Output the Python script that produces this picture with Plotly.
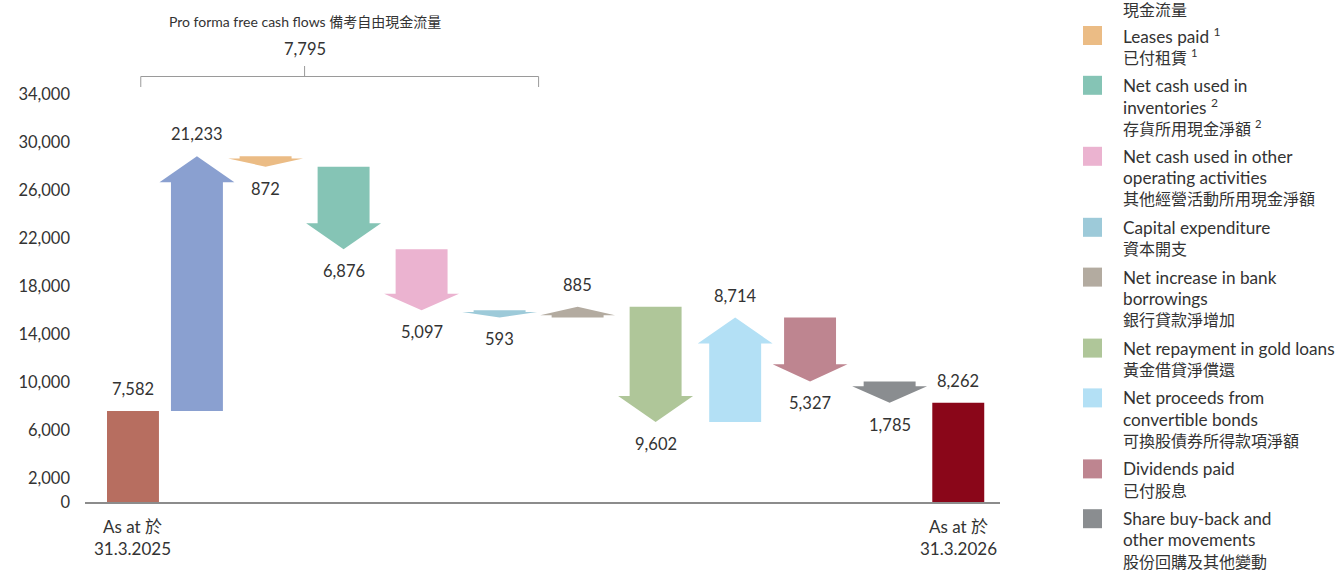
import re
import plotly.graph_objects as go

# ---------------- data ----------------
start_value = 7582
end_value = 8262
changes = [21233, -872, -6876, -5097, -593, 885, -9602, 8714, -5327, -1785]
change_colors = ["#8AA0D0", "#EBBC85", "#85C4B5", "#EBB3D0", "#9DCAD9",
                 "#B3ABA0", "#AFC699", "#B3E0F5", "#BE8590", "#8A8D90"]
start_color = "#B76E60"
end_color = "#8A0619"
ytick_vals = [0, 2000, 6000, 10000, 14000, 18000, 22000, 26000, 30000, 34000]
start_cat = "As at 於<br>31.3.2025"
end_cat = "As at 於<br>31.3.2026"
fcf_title = "Pro forma free cash flows 備考自由現金流量"
fcf_value = sum(changes[:5])  # 7,795

legend_partial = "現金流量"
legend_items = [
    ("#EBBC85", ["Leases paid <sup>1</sup>", "已付租賃 <sup>1</sup>"]),
    ("#85C4B5", ["Net cash used in", "inventories <sup>2</sup>", "存貨所用現金淨額 <sup>2</sup>"]),
    ("#EBB3D0", ["Net cash used in other", "operating activities", "其他經營活動所用現金淨額"]),
    ("#9DCAD9", ["Capital expenditure", "資本開支"]),
    ("#B3ABA0", ["Net increase in bank", "borrowings", "銀行貸款淨增加"]),
    ("#AFC699", ["Net repayment in gold loans", "黃金借貸淨償還"]),
    ("#B3E0F5", ["Net proceeds from", "convertible bonds", "可換股債券所得款項淨額"]),
    ("#BE8590", ["Dividends paid", "已付股息"]),
    ("#8A8D90", ["Share buy-back and", "other movements", "股份回購及其他變動"]),
]

# ---------------- layout constants ----------------
W, H = 1336, 570
ML, MR, MT, MB = 85, 336, 10, 68
YMAX = 41000
PX = (H - MT - MB) / YMAX          # pixels per value unit
x_slot = [0, 0.82, 1.7, 2.7, 3.7, 4.7, 5.7, 6.7, 7.72, 8.68, 9.7, 10.58]
XR = [-0.615, 11.115]
BW = 0.333   # half body width (slot units)
HW = 0.48    # half head width
FONT = "Lato, 'Noto Sans CJK TC', sans-serif"
TXT = "#333333"

fig = go.Figure()

# start / end bars
fig.add_trace(go.Bar(x=[x_slot[0], x_slot[-1]], y=[start_value, end_value],
                     width=2 * BW, marker=dict(color=[start_color, end_color], line_width=0),
                     showlegend=False, hoverinfo="skip"))

annotations = []
shapes = []

def vlabel(x, y, text, shift):
    annotations.append(dict(x=x, y=y, xref="x", yref="y", text=text, showarrow=False,
                            yshift=shift, yanchor="middle", xanchor="center",
                            font=dict(family=FONT, size=16.5, color=TXT)))

vlabel(x_slot[0], start_value, f"{start_value:,}", 22)
vlabel(x_slot[-1], end_value, f"{end_value:,}", 22)

# arrows
cum = start_value
for i, (d, col) in enumerate(zip(changes, change_colors)):
    c = x_slot[i + 1]
    a, b = cum, cum + d
    lpx = abs(d) * PX
    if lpx < 30:
        hpx = 0.78 * lpx
    elif lpx < 75:
        hpx = 0.27 * lpx
    else:
        hpx = 26
    h = hpx / PX
    s = 1 if d > 0 else -1
    nb = b - s * h
    xs = [c - BW, c + BW, c + BW, c + HW, c, c - HW, c - BW, c - BW]
    ys = [a, a, nb, nb, b, nb, nb, a]
    fig.add_trace(go.Scatter(x=xs, y=ys, fill="toself", fillcolor=col, mode="lines",
                             line=dict(width=0, color=col), showlegend=False, hoverinfo="skip"))
    vlabel(c, b, f"{abs(d):,}", 22 * s)
    cum = b

# category labels under axis
for xv, t in [(x_slot[0], start_cat), (x_slot[-1], end_cat)]:
    annotations.append(dict(x=xv, y=0, xref="x", yref="y", text=t, showarrow=False,
                            yanchor="top", xanchor="center", yshift=-12,
                            font=dict(family=FONT, size=17, color=TXT)))

# bracket for pro forma FCF
def ypx(py):
    return (H - MB - py) / PX

bl = x_slot[1] - 0.72
br = (x_slot[5] + x_slot[6]) / 2
bt = 2.2
gray = "#9a9a9a"
for x0, x1, p0, p1 in [(bl, br, 76.5, 76.5), (bl, bl, 76.5, 87), (br, br, 76.5, 87), (bt, bt, 76.5, 66)]:
    shapes.append(dict(type="line", xref="x", yref="y", x0=x0, x1=x1, y0=ypx(p0), y1=ypx(p1),
                       line=dict(color=gray, width=1)))
annotations.append(dict(x=bt, y=ypx(49), xref="x", yref="y", text=f"{fcf_value:,}", showarrow=False,
                        yanchor="middle", xanchor="center", font=dict(family=FONT, size=16.5, color=TXT)))
annotations.append(dict(x=bt, y=ypx(21), xref="x", yref="y", text=fcf_title, showarrow=False,
                        yanchor="middle", xanchor="center", font=dict(family=FONT, size=14, color=TXT)))

# legend (manual)
def px_x(px):
    return (px - ML) / (W - ML - MR)

def px_y(py):
    return (H - MB - py) / (H - MT - MB)

def has_cjk(t):
    return re.search(r"[\u4e00-\u9fff]", t) is not None

LINE = 21.2
GAP = 7.4
TX = 1121
SX0, SX1 = 1083, 1102
annotations.append(dict(x=px_x(TX), y=px_y(9.5), xref="paper", yref="paper", text=legend_partial,
                        showarrow=False, xanchor="left", yanchor="middle",
                        font=dict(family=FONT, size=16, color=TXT)))
y0 = 35.5
for col, lines in legend_items:
    shapes.append(dict(type="rect", xref="paper", yref="paper", x0=px_x(SX0), x1=px_x(SX1),
                       y0=px_y(y0 - 9.5), y1=px_y(y0 + 9.5), fillcolor=col, line=dict(width=0)))
    for k, t in enumerate(lines):
        annotations.append(dict(x=px_x(TX), y=px_y(y0 + k * LINE), xref="paper", yref="paper",
                                text=t, showarrow=False, xanchor="left", yanchor="middle",
                                font=dict(family=FONT, size=16 if has_cjk(t) else 17.2, color=TXT)))
    y0 += LINE * len(lines) + GAP

fig.update_layout(
    width=W, height=H,
    margin=dict(l=ML, r=MR, t=MT, b=MB),
    paper_bgcolor="white", plot_bgcolor="white",
    showlegend=False,
    xaxis=dict(range=XR, showgrid=False, zeroline=False, showline=True, linecolor="#8c8c8c",
               linewidth=1.5, showticklabels=False, ticks="", fixedrange=True),
    yaxis=dict(range=[0, YMAX], tickvals=ytick_vals, ticktext=[f"{v:,}" for v in ytick_vals],
               showgrid=False, zeroline=False, showline=False, ticks="", ticklabelstandoff=14,
               tickfont=dict(family=FONT, size=16.5, color=TXT), fixedrange=True),
    annotations=annotations,
    shapes=shapes,
)

fig.write_html("out.html", config={"displayModeBar": False},
               post_script="document.body.style.margin='0';document.body.style.padding='0';"
                           "document.body.style.overflow='hidden';")
